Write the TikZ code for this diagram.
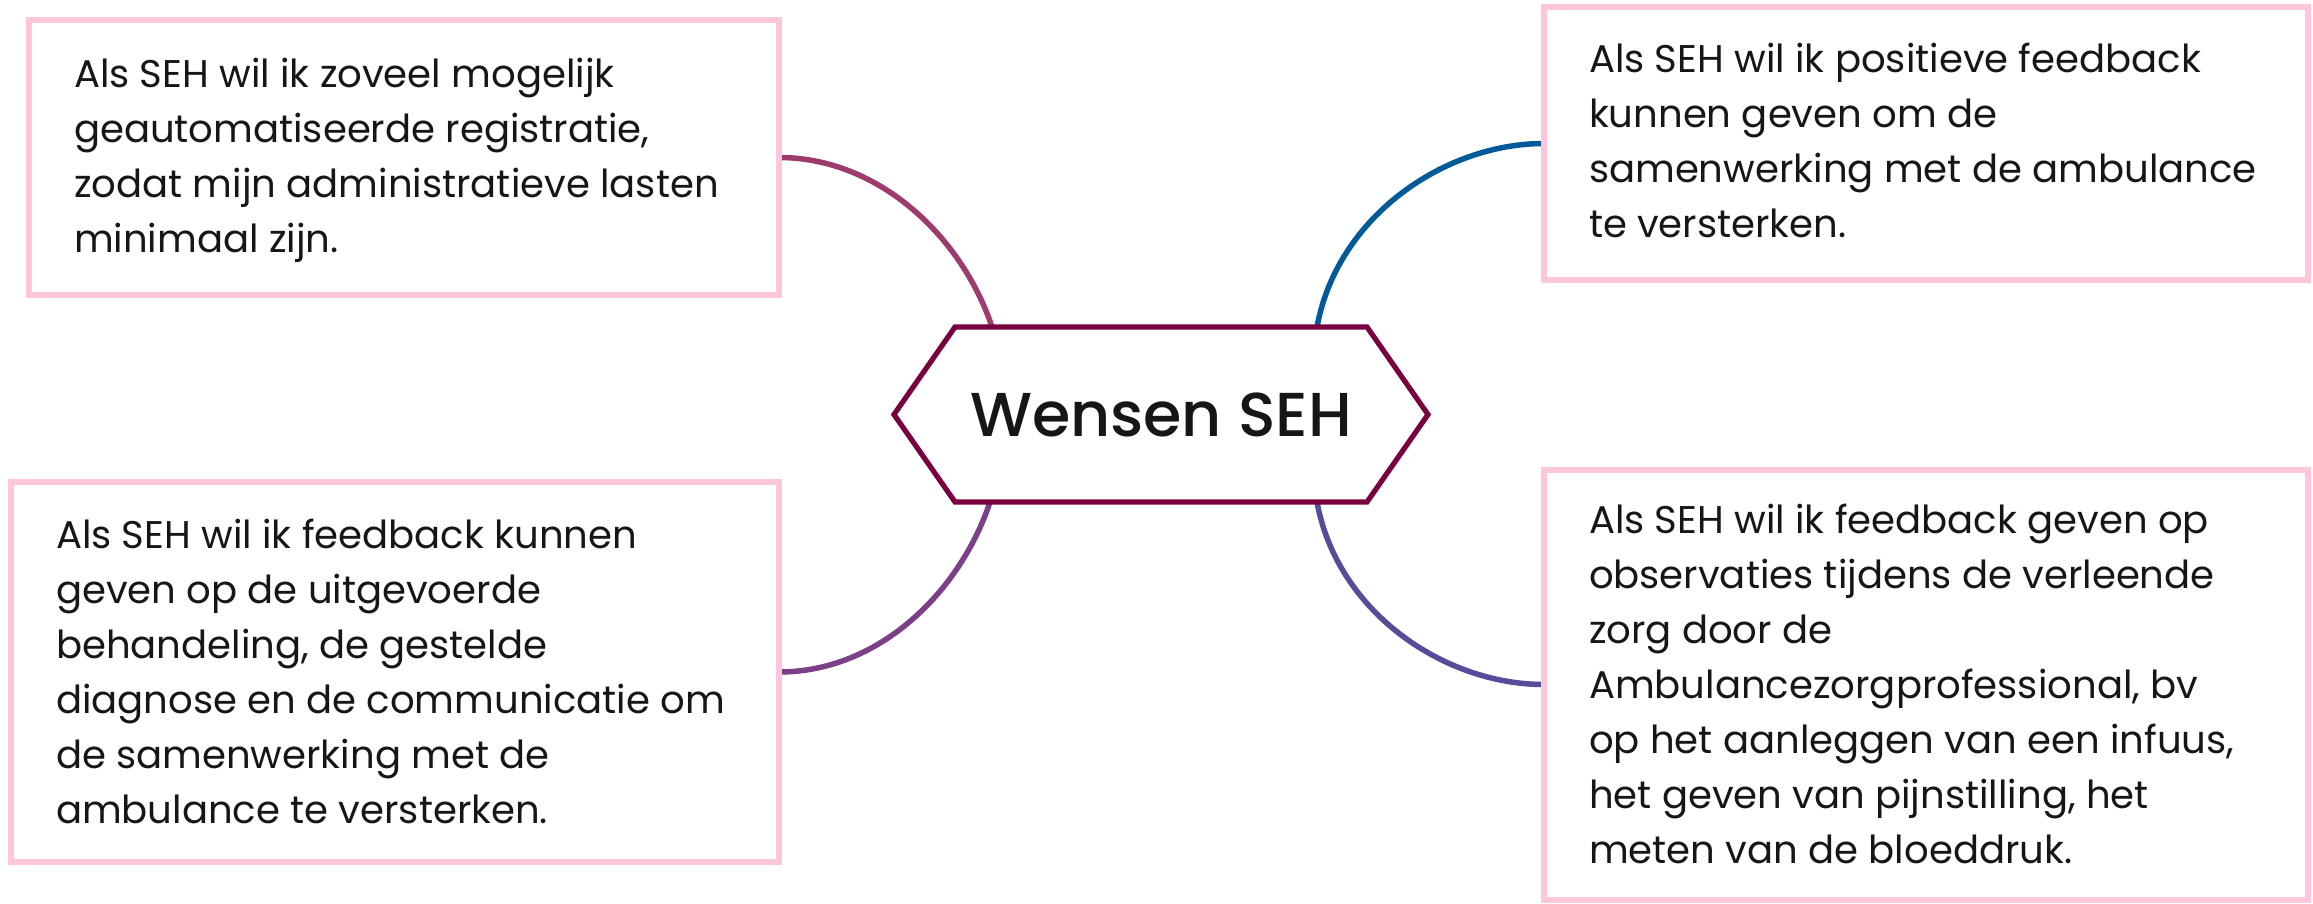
\documentclass[tikz,border=0pt]{standalone}
\usepackage{fontspec}
\setmainfont{Poppins}
\newfontfamily\hubfont{Poppins Medium}
\usetikzlibrary{calc}

\definecolor{ink}{HTML}{161616}
\definecolor{hubline}{HTML}{780040}
\definecolor{cardpink}{HTML}{FFC6D9}
\definecolor{branchA}{HTML}{9E3B6E}
\definecolor{branchB}{HTML}{005A9A}
\definecolor{branchC}{HTML}{7B4088}
\definecolor{branchD}{HTML}{554C9A}

\pgfdeclarelayer{background}
\pgfsetlayers{background,main}

\begin{document}
\begin{tikzpicture}[x=0.5pt,y=-0.5pt,
  card/.style={draw=cardpink, line width=3pt, fill=white, inner sep=0pt, outer sep=0pt},
  cardtext/.style={anchor=base west, inner sep=0pt, outer sep=0pt,
    font=\fontsize{19.3}{27.5}\selectfont, text=ink},
  hubshape/.style={inner sep=0pt, outer sep=0pt, minimum width=267pt, minimum height=87.5pt,
    font=\hubfont\fontsize{31}{36}\selectfont, text=ink},
  branch/.style={line width=2.75pt, line cap=round}]

\useasboundingbox (0,0) rectangle (2313,904);

% central topic
\node[hubshape] (hub) at (1161,414.5) {Wensen SEH};

% the four cards
\node[card, minimum width=375pt, minimum height=137.5pt] (tl) at (404,157.5) {};
\node[card, minimum width=382pt, minimum height=136.5pt] (tr) at (1926,143.5) {};
\node[card, minimum width=384pt, minimum height=190pt] (bl) at (395,672) {};
\node[card, minimum width=382pt, minimum height=215pt] (br) at (1926,684.5) {};

\node[cardtext] (tl-text) at (74,88) {\begin{tabular}[t]{@{}l@{}}
Als SEH wil ik zoveel mogelijk\\
geautomatiseerde registratie,\\
zodat mijn administratieve lasten\\
minimaal zijn.\end{tabular}};

\node[cardtext] (tr-text) at (1589,73) {\begin{tabular}[t]{@{}l@{}}
Als SEH wil ik positieve feedback\\
kunnen geven om de\\
samenwerking met de ambulance\\
te versterken.\end{tabular}};

\node[cardtext] (bl-text) at (56,548) {\begin{tabular}[t]{@{}l@{}}
Als SEH wil ik feedback kunnen\\
geven op de uitgevoerde\\
behandeling, de gestelde\\
diagnose en de communicatie om\\
de samenwerking met de\\
ambulance te versterken.\end{tabular}};

\node[cardtext] (br-text) at (1589,533) {\begin{tabular}[t]{@{}l@{}}
Als SEH wil ik feedback geven op\\
observaties tijdens de verleende\\
zorg door de\\
Ambulancezorgprofessional, bv\\
op het aanleggen van een infuus,\\
het geven van pijnstilling, het\\
meten van de bloeddruk.\end{tabular}};

\begin{pgfonlayer}{background}
  % branches from the cards to the central topic
  \draw[branch, branchA] (tl.east) .. controls +(100,0) and +(-30,-90) .. ([xshift=49pt]hub.north west);
  \draw[branch, branchB] ([xshift=-55.5pt]hub.north east) .. controls +(20,-110) and +(-100,0) .. (tr.west);
  \draw[branch, branchC] ([xshift=48pt]hub.south west) .. controls +(-30,90) and +(100,0) .. (bl.east);
  \draw[branch, branchD] ([xshift=-55.5pt]hub.south east) .. controls +(20,110) and +(-100,0) .. (br.west);
  % hexagonal outline of the central topic
  \draw[hubline, line width=2.6pt, fill=white, line join=miter]
    (hub.west) -- ([xshift=30.5pt]hub.north west) -- ([xshift=-30.5pt]hub.north east)
    -- (hub.east) -- ([xshift=-30.5pt]hub.south east) -- ([xshift=30.5pt]hub.south west) -- cycle;
\end{pgfonlayer}
\end{tikzpicture}
\end{document}
